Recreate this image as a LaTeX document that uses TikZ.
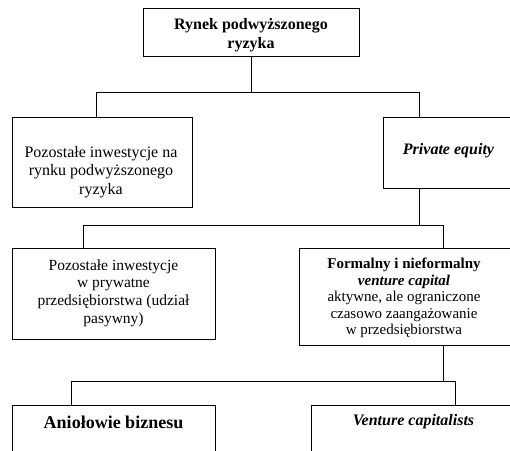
\documentclass[tikz,border=0pt]{standalone}
\usepackage{fontspec}
\setmainfont{Liberation Serif}
\usetikzlibrary{calc}
\tikzset{
  box/.style={draw=black, line width=1pt, inner sep=0pt, outer sep=0pt},
  conn/.style={draw=black, line width=0.9pt},
  txt/.style={align=center, inner sep=0pt, outer sep=0pt},
}
\begin{document}
\begin{tikzpicture}[x=1pt, y=-1pt]
\useasboundingbox (0,0) rectangle (510,450);
\clip (0,0) rectangle (510,450);
\fill[white] (0,0) rectangle (510,450);
% boxes
\node[box, minimum width=216pt, minimum height=48pt] (top) at (251,32) {};
\node[box, minimum width=180pt, minimum height=90pt] (l1) at (102,162) {};
\node[box, minimum width=131pt, minimum height=71pt] (pe) at (448.5,152.5) {};
\node[box, minimum width=203pt, minimum height=91pt] (l2) at (113.5,293.5) {};
\node[box, minimum width=212pt, minimum height=97pt] (r2) at (405,296.5) {};
\node[box, minimum width=203pt, minimum height=70pt] (l3) at (113.5,440) {};
\node[box, minimum width=205pt, minimum height=70pt] (r3) at (413.5,440) {};
% texts
\node[txt, font=\fontsize{16}{18.5}\selectfont\bfseries] (topt) at (251,35) {Rynek podwyższonego\\ryzyka};
\node[txt, font=\fontsize{16}{18.5}\selectfont] (l1t) at (101,172) {Pozostałe inwestycje na\\rynku podwyższonego\\ryzyka};
\node[txt, font=\fontsize{16}{18.5}\selectfont\bfseries\itshape] (pet) at (448.5,151) {Private equity};
\node[txt, font=\fontsize{15.5}{17.7}\selectfont] (l2t) at (113.5,293) {Pozostałe inwestycje\\w prywatne\\przedsiębiorstwa (udział\\pasywny)};
\node[txt, font=\fontsize{15}{16.5}\selectfont] (r2t) at (404,298) {\textbf{Formalny i nieformalny}\\\textbf{\itshape venture capital}\\aktywne, ale ograniczone\\czasowo zaangażowanie\\w przedsiębiorstwa};
\node[txt, font=\fontsize{18}{20}\selectfont\bfseries] (l3t) at (113.5,422) {Aniołowie biznesu};
\node[txt, font=\fontsize{16}{18.5}\selectfont\bfseries\itshape] (r3t) at (413.5,421.5) {Venture capitalists};
% connectors level 1
\coordinate (j1) at ($(top.south)+(0,36)$);
\coordinate (a1) at ($(l1.north west)+(84,0)$);
\coordinate (b1) at ($(pe.north west)+(36,0)$);
\draw[conn] (top.south) -- (j1);
\draw[conn] (a1) -- (a1 |- j1) -- (b1 |- j1) -- (b1);
% connectors level 2
\coordinate (c1) at ($(pe.south west)+(36,0)$);
\coordinate (j2) at ($(c1)+(0,37)$);
\coordinate (a2) at ($(l2.north west)+(71,0)$);
\coordinate (b2) at ($(r2.north west)+(144,0)$);
\draw[conn] (c1) -- (j2);
\draw[conn] (a2) -- (a2 |- j2) -- (b2 |- j2) -- (b2);
% connectors level 3
\coordinate (c2) at ($(r2.south west)+(144,0)$);
\coordinate (j3) at ($(c2)+(0,36)$);
\coordinate (a3) at ($(l3.north west)+(59,0)$);
\coordinate (b3) at ($(r3.north west)+(144,0)$);
\draw[conn] (c2) -- (j3);
\draw[conn] (a3) -- (a3 |- j3) -- (b3 |- j3) -- (b3);
\end{tikzpicture}
\end{document}
